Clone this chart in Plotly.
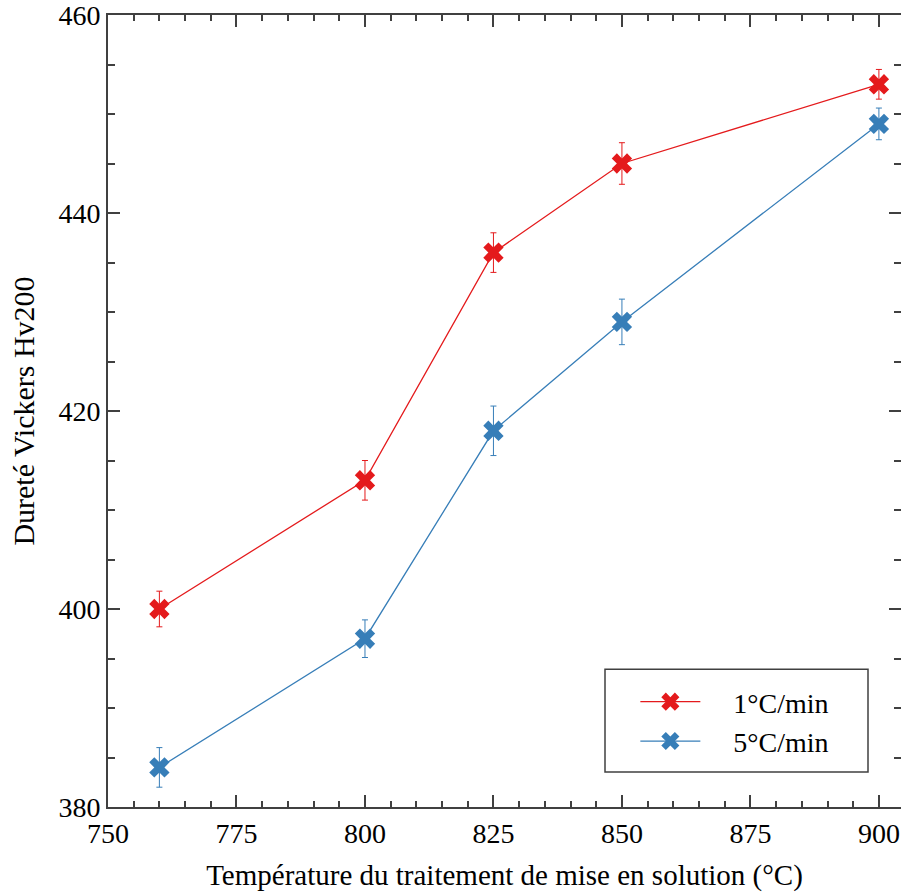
import plotly.graph_objects as go

temps = [760, 800, 825, 850, 900]
hv_1 = [400, 413, 436, 445, 453]
err_1 = [1.8, 2.0, 2.0, 2.1, 1.5]
hv_5 = [384, 397, 418, 429, 449]
err_5 = [2.0, 1.9, 2.5, 2.3, 1.6]
labels = ["1°C/min", "5°C/min"]
red = "#e41a1c"
blue = "#377eb8"

font = "Liberation Serif, Times New Roman, serif"
axc = "#404040"
pad = "\u00a0" * 4

fig = go.Figure()
for y, e, c, name in [(hv_1, err_1, red, labels[0]), (hv_5, err_5, blue, labels[1])]:
    fig.add_trace(go.Scatter(
        x=temps, y=y, name=pad + name, mode="lines+markers",
        line=dict(color=c, width=1.3),
        marker=dict(symbol="x", size=18, color=c),
        error_y=dict(type="data", array=e, visible=True, color=c, thickness=1, width=3),
    ))

# invisible trace to carry right-side ticks
fig.add_trace(go.Scatter(x=[temps[0]], y=[hv_1[0]], yaxis="y2", showlegend=False,
                         mode="markers", marker=dict(opacity=0), hoverinfo="skip"))

axis_common = dict(showgrid=False, zeroline=False, linecolor=axc, linewidth=2,
                   tickcolor=axc, tickwidth=1.5, ticks="inside", ticklabeloverflow="allow",
                   tickfont=dict(family=font, size=28, color="black"))

fig.update_layout(
    width=901, height=892,
    margin=dict(l=108, r=0, t=13, b=85),
    paper_bgcolor="white", plot_bgcolor="white",
    font=dict(family=font, color="black"),
    xaxis=dict(range=[750, 904.3], tick0=750, dtick=25, ticklen=12, showline=True, mirror="ticks",
               minor=dict(dtick=5, ticklen=6, ticks="inside", tickcolor=axc),
               title=dict(text="Température du traitement de mise en solution (°C)",
                          font=dict(family=font, size=29), standoff=17),
               **axis_common),
    yaxis=dict(range=[380, 460], tick0=380, dtick=20, ticklen=12, showline=True,
               minor=dict(dtick=5, ticklen=7, ticks="inside", tickcolor=axc),
               title=dict(text="Dureté Vickers Hv200", font=dict(family=font, size=30), standoff=15),
               **axis_common),
    yaxis2=dict(range=[380, 460], tick0=380, dtick=20, overlaying="y", side="right",
                showline=False, showgrid=False, zeroline=False, ticks="inside", ticklen=12,
                tickcolor=axc, tickwidth=1.5, showticklabels=False,
                minor=dict(dtick=5, ticklen=7, ticks="inside", tickcolor=axc)),
    legend=dict(x=0.665, y=0.108, xanchor="left", yanchor="middle",
                borderwidth=0, bgcolor="rgba(0,0,0,0)",
                font=dict(family=font, size=28), itemwidth=60,
                tracegroupgap=0),
    shapes=[dict(type="rect", xref="paper", yref="paper",
                 x0=(605 - 108) / 793, x1=(868 - 108) / 793,
                 y0=(807 - 772) / 794, y1=(807 - 669) / 794,
                 line=dict(color=axc, width=1.5), fillcolor="rgba(0,0,0,0)", layer="below")],
    showlegend=True,
)

fig.write_html("out.html", config={"displayModeBar": False},
               post_script="document.body.style.margin='0';")
